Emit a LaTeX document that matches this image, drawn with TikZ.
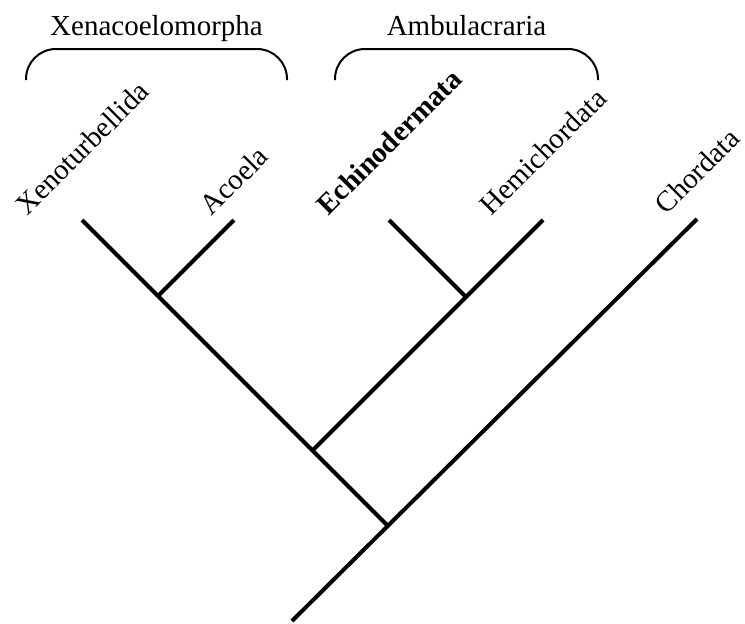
\documentclass[tikz,border=0pt]{standalone}
\usepackage{fontspec}
\setmainfont{Liberation Serif}
\usepackage{graphicx}
\usepackage{tikz}
\usetikzlibrary{positioning,calc}

\tikzset{
  branche/.style={line width=4pt, line cap=butt},
  accolade/.style={line width=2pt, rounded corners=30pt},
  taxon/.style={anchor=south, inner sep=3pt, font=\fontsize{29}{34}\selectfont},
  clade/.style={anchor=base, inner sep=0pt, font=\fontsize{29}{34}\selectfont}
}

\begin{document}
\begin{tikzpicture}[x=1pt, y=-1pt]
  \useasboundingbox (0,0) rectangle (745,624);

  % Points de l'arbre
  \coordinate (racine) at (292,621);
  \coordinate (n1) at (388,526);
  \coordinate (n2) at (313,450);
  \coordinate (n3) at (158,296);
  \coordinate (n4) at (465,296);
  \coordinate (xeno) at (82,220);
  \coordinate (acoel) at (234,220);
  \coordinate (echino) at (389,220);
  \coordinate (hemi) at (543,220);
  \coordinate (chord) at (697,219);

  % Branches
  \draw[branche] (racine) -- (chord);
  \draw[branche] (n1) -- (xeno);
  \draw[branche] (n2) -- (hemi);
  \draw[branche] (n4) -- (echino);
  \draw[branche] (n3) -- (acoel);

  % Noms des taxons
  \node[taxon] (lxeno) at (xeno) {\rotatebox{45}{Xenoturbellida}};
  \node[taxon] (lacoel) at (acoel) {\rotatebox{45}{Acoela}};
  \node[taxon] (lechino) at (echino) {\rotatebox{45}{\textbf{Echinodermata}}};
  \node[taxon] (lhemi) at (hemi) {\rotatebox{45}{Hemichordata}};
  \node[taxon] (lchord) at (chord) {\rotatebox{45}{Chordata}};

  % Accolades des clades
  \coordinate (xa) at (26,80);
  \coordinate (xb) at (287,80);
  \coordinate (aa) at (335,80);
  \coordinate (ab) at (598,80);
  \draw[accolade] (xa) -- (xa |- 0,49) -- (xb |- 0,49) -- (xb);
  \draw[accolade] (aa) -- (aa |- 0,49) -- (ab |- 0,49) -- (ab);
  \node[clade] (xenac) at (156.5,35) {Xenacoelomorpha};
  \node[clade] (ambul) at (466.5,35) {Ambulacraria};
\end{tikzpicture}
\end{document}
